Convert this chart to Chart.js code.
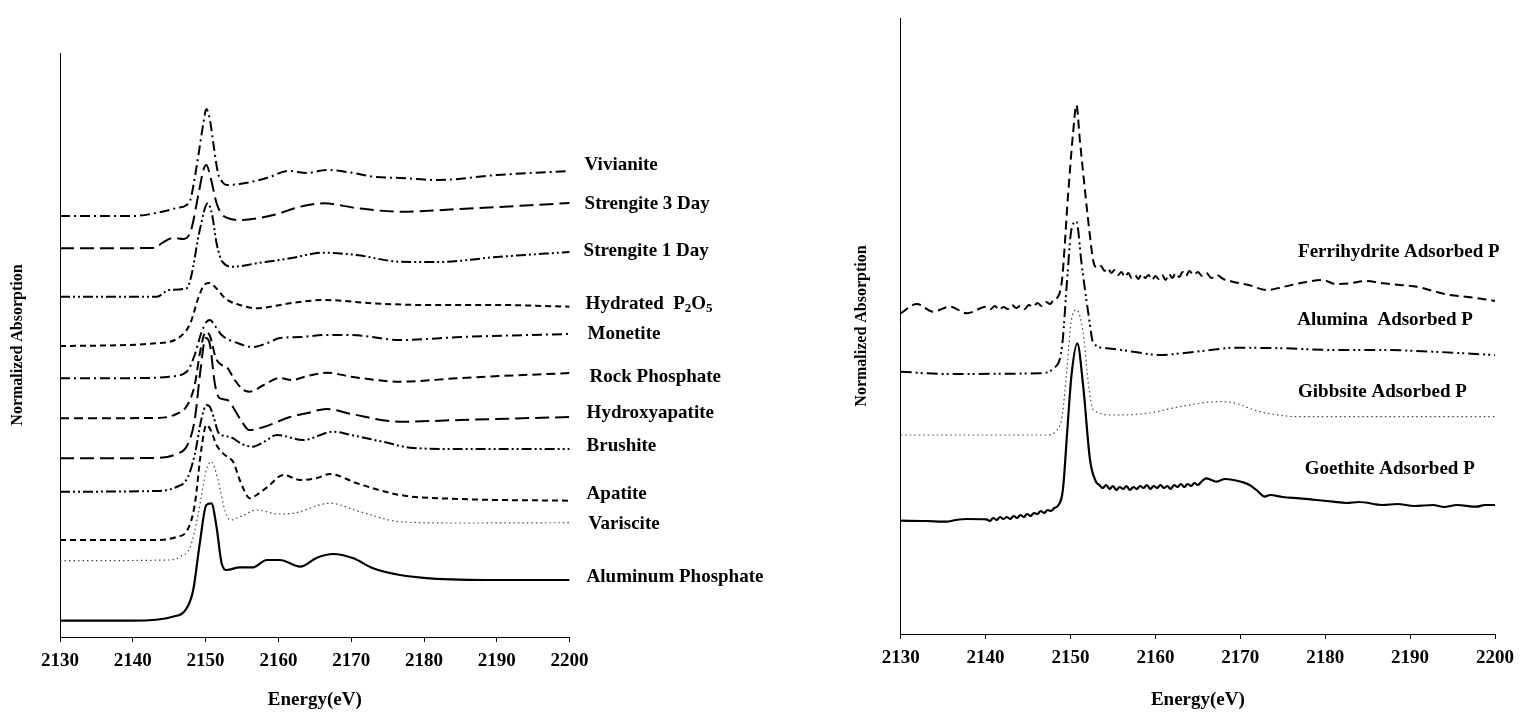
<!DOCTYPE html>
<html><head><meta charset="utf-8">
<script src="https://cdn.jsdelivr.net/npm/chart.js@4"></script>
<style>
html,body{margin:0;padding:0;background:#fff;width:1524px;height:715px;overflow:hidden}
canvas{position:absolute;top:0}
#c1{left:0}
#c2{left:820px}
</style></head><body>
<canvas id="c1" width="800" height="715"></canvas>
<canvas id="c2" width="704" height="715"></canvas>
<script>
// ---------- axis ticks ----------
const xMin = 2130, xMax = 2200, xStep = 10;

// ---------- left panel: reference compounds ----------
const leftNames = ['Vivianite','Strengite 3 Day','Strengite 1 Day','Hydrated P2O5','Monetite','Rock Phosphate','Hydroxyapatite','Brushite','Apatite','Variscite','Aluminum Phosphate'];

const vivE = [2130,2140,2144,2146,2147.4,2147.9,2148.8,2149.7,2150.1,2150.6,2151,2151.7,2152.3,2152.9,2154.7,2158.4,2161.4,2163.9,2166.6,2170.3,2173,2176.7,2182,2190,2200];
const vivA = [4.21,4.21,4.253,4.29,4.32,4.37,4.72,5.14,5.28,5.17,4.97,4.64,4.55,4.52,4.53,4.59,4.66,4.64,4.67,4.64,4.603,4.59,4.57,4.62,4.66];

const s3E = [2130,2143,2144,2145.5,2147,2148,2149,2149.7,2150.1,2150.7,2151.5,2152.2,2153,2154.7,2159.3,2163,2166.2,2170.7,2176.7,2185,2200];
const s3A = [3.887,3.89,3.94,3.99,3.98,4.07,4.42,4.67,4.72,4.59,4.34,4.23,4.19,4.17,4.22,4.303,4.337,4.29,4.253,4.28,4.34];

const s1E = [2130,2143.3,2145,2147.4,2148,2149.2,2150.3,2150.9,2151.5,2152.3,2153.8,2157,2161.6,2166.2,2170.7,2176.7,2182,2190,2200];
const s1A = [3.403,3.403,3.47,3.487,3.60,4.07,4.337,4.22,3.94,3.753,3.703,3.737,3.787,3.843,3.82,3.753,3.75,3.80,3.85];

const hydE = [2130,2143.3,2146.5,2147.9,2149,2149.8,2150.5,2151.3,2152.5,2153.5,2154.7,2157,2161.6,2166.2,2173,2180,2190,2200];
const hydA = [2.91,2.937,3.003,3.137,3.39,3.52,3.54,3.50,3.40,3.35,3.32,3.287,3.337,3.37,3.337,3.32,3.32,3.303];

const monE = [2130,2142,2145,2147.4,2148.5,2149.4,2150.1,2150.6,2151.3,2152.2,2154.5,2156.5,2158.5,2160.2,2163,2166.5,2170,2176.7,2185,2200];
const monA = [2.587,2.59,2.603,2.653,2.82,3.04,3.15,3.17,3.11,3.02,2.937,2.90,2.94,2.99,3.00,3.02,3.02,2.97,3.00,3.03];

const rockE = [2130,2143,2146,2147.5,2148.5,2149.3,2150,2150.6,2151.4,2152.2,2152.9,2154,2155.2,2156,2158,2160.2,2161.8,2164,2166.7,2170,2176.7,2185,2200];
const rockA = [2.187,2.19,2.23,2.32,2.52,2.87,3.05,3.01,2.79,2.72,2.70,2.57,2.47,2.453,2.52,2.59,2.57,2.61,2.643,2.603,2.553,2.59,2.64];

const hapE = [2130,2143,2146,2147.5,2148.5,2149.3,2150,2150.6,2151.3,2151.9,2153,2154,2155,2156,2158,2161.6,2164,2166.6,2170,2176.7,2185,2200];
const hapA = [1.787,1.79,1.83,1.92,2.17,2.67,2.99,2.92,2.52,2.39,2.37,2.27,2.15,2.07,2.10,2.20,2.24,2.28,2.23,2.153,2.17,2.20];

const brE = [2130,2143,2146,2147.5,2148.5,2149.4,2150.1,2150.6,2151.1,2151.8,2153.4,2155,2156.5,2158,2159.8,2163.4,2167.5,2170,2174.3,2178.5,2185,2200];
const brA = [1.453,1.46,1.50,1.59,1.82,2.17,2.32,2.30,2.20,2.04,2.00,1.93,1.903,1.95,2.02,1.97,2.053,2.02,1.953,1.89,1.88,1.88];

const apE = [2130,2143,2146,2147.5,2148.5,2149.4,2150.1,2150.7,2151.5,2152.2,2153,2153.8,2154.7,2156.1,2157,2158.5,2160.7,2163,2165.3,2167.1,2170.8,2176.7,2185,2200];
const apA = [0.97,0.97,1.00,1.07,1.32,1.87,2.12,2.07,1.92,1.85,1.80,1.75,1.57,1.387,1.42,1.50,1.62,1.57,1.59,1.63,1.537,1.42,1.38,1.363];

const varE = [2130,2145,2146.5,2147.9,2149,2150.1,2150.8,2151.7,2152.7,2153.4,2155,2157,2160,2162,2167.1,2171.2,2176.7,2185,2200];
const varA = [0.763,0.77,0.803,0.903,1.237,1.67,1.753,1.57,1.253,1.17,1.21,1.27,1.23,1.237,1.337,1.253,1.153,1.14,1.143];

const alpE = [2130,2140,2145.5,2147.4,2148.3,2149.2,2150.1,2150.8,2151.5,2152.2,2152.9,2154.7,2156.5,2158.4,2160.2,2163,2165.3,2167.5,2170.3,2173,2176.7,2180.8,2190,2200];
const alpA = [0.163,0.163,0.203,0.287,0.47,0.937,1.32,1.337,1.103,0.737,0.67,0.697,0.697,0.77,0.77,0.703,0.793,0.83,0.787,0.687,0.62,0.587,0.57,0.57];

// ---------- right panel: adsorbed P ----------
const rightNames = ['Ferrihydrite Adsorbed P','Alumina  Adsorbed P','Gibbsite Adsorbed P','Goethite Adsorbed P'];

const ferE = [2130,2131.9,2133.8,2135.8,2137.8,2140.1,2140.6,2141.1,2141.6,2142.1,2142.6,2143.1,2143.6,2144.1,2144.6,2145.1,2145.6,2146.1,2146.6,2147.1,2147.6,2148.0,2148.4,2149.0,2149.7,2150.3,2150.7,2151.1,2151.7,2152.3,2152.7,2153.2,2153.6,2154.0,2154.4,2154.8,2155.2,2155.6,2156.0,2156.4,2156.8,2157.2,2157.6,2158.0,2158.4,2158.8,2159.2,2159.6,2160.0,2160.4,2160.8,2161.2,2161.6,2162.0,2162.4,2162.8,2163.2,2163.6,2164.0,2164.5,2165.0,2165.5,2166.0,2166.6,2167.2,2168.0,2169.1,2171,2173.1,2175,2177,2179.7,2181.2,2182.9,2184.8,2186.8,2188.8,2190.8,2192.7,2194.7,2196.8,2198.6,2199.4,2200];
const ferA = [3.207,3.30,3.223,3.273,3.207,3.273,3.25,3.28,3.24,3.27,3.25,3.29,3.26,3.28,3.25,3.29,3.27,3.31,3.28,3.32,3.30,3.34,3.357,3.54,4.373,5.007,5.29,4.94,4.44,3.973,3.723,3.66,3.68,3.63,3.66,3.61,3.64,3.59,3.62,3.57,3.61,3.56,3.59,3.55,3.60,3.56,3.59,3.54,3.58,3.55,3.59,3.54,3.60,3.56,3.61,3.57,3.62,3.58,3.63,3.59,3.62,3.58,3.61,3.56,3.59,3.55,3.523,3.49,3.44,3.47,3.507,3.54,3.50,3.507,3.53,3.507,3.49,3.473,3.43,3.39,3.37,3.35,3.34,3.33];

const aluE = [2130,2135.4,2146.4,2148,2149,2149.6,2150.1,2150.7,2151.3,2152.1,2152.7,2154.3,2157.4,2160.5,2163.7,2167.2,2169.2,2175.1,2181,2186.8,2192.7,2200];
const aluA = [2.623,2.60,2.607,2.657,2.873,3.54,4.04,4.123,3.707,3.207,2.907,2.857,2.823,2.79,2.813,2.847,2.863,2.857,2.84,2.84,2.823,2.79];

const gibE = [2130,2147.2,2148.2,2149,2149.6,2150.1,2150.7,2151.5,2152.1,2152.7,2155,2159,2162.9,2167.2,2169.1,2172.3,2177,2200];
const gibA = [1.99,1.99,2.023,2.173,2.673,3.14,3.24,3.007,2.507,2.24,2.19,2.207,2.273,2.323,2.313,2.223,2.173,2.173];

const goeE = [2130,2133,2135.4,2136.5,2137.8,2140.1,2140.5,2140.9,2141.3,2141.7,2142.1,2142.5,2142.9,2143.3,2143.7,2144.1,2144.5,2144.9,2145.3,2145.7,2146.1,2146.5,2146.9,2147.3,2147.7,2148.1,2148.5,2149.1,2149.6,2150.1,2150.8,2151.5,2152.3,2153.0,2153.4,2153.8,2154.2,2154.6,2155.0,2155.4,2155.8,2156.2,2156.6,2157.0,2157.4,2157.8,2158.2,2158.6,2159.0,2159.4,2159.8,2160.2,2160.6,2161.0,2161.4,2161.8,2162.2,2162.6,2163.0,2163.4,2163.8,2164.2,2164.6,2165.0,2165.5,2166.0,2166.6,2167.2,2168.2,2169.2,2170.2,2171.1,2171.9,2172.9,2173.5,2175,2177,2179,2180.9,2182.5,2184,2186.8,2188.5,2190.5,2192.7,2194,2195.5,2197.8,2198.8,2200];
const goeA = [1.133,1.13,1.123,1.14,1.15,1.147,1.13,1.16,1.14,1.17,1.15,1.17,1.15,1.18,1.16,1.19,1.17,1.20,1.18,1.21,1.20,1.23,1.21,1.24,1.23,1.26,1.28,1.44,2.007,2.573,2.907,2.473,1.74,1.523,1.49,1.46,1.49,1.45,1.48,1.44,1.47,1.45,1.48,1.44,1.47,1.45,1.48,1.46,1.49,1.45,1.48,1.46,1.49,1.46,1.48,1.45,1.49,1.47,1.50,1.47,1.50,1.48,1.51,1.49,1.53,1.557,1.54,1.523,1.55,1.54,1.52,1.49,1.44,1.373,1.39,1.37,1.357,1.34,1.323,1.31,1.32,1.29,1.30,1.28,1.29,1.27,1.29,1.273,1.29,1.29];

// ---------- styles (kept apart from data) ----------
const DASHDOT = [10,4,2,4], LONG = [14,6], DDD = [10,3,2,3,2,3], SHORT = [6,4], MED = [9,5], DOT = [1.5,3];
const leftSeries = [
  [vivE, vivA, DASHDOT, 2], [s3E, s3A, LONG, 2], [s1E, s1A, DDD, 2], [hydE, hydA, SHORT, 2],
  [monE, monA, DASHDOT, 2], [rockE, rockA, MED, 2], [hapE, hapA, LONG, 2], [brE, brA, DDD, 2],
  [apE, apA, SHORT, 2], [varE, varA, DOT, 1.2], [alpE, alpA, [], 2.2]
];
const rightSeries = [
  [ferE, ferA, [9,5], 2], [aluE, aluA, [11,4,2,3,2,4], 2], [gibE, gibA, DOT, 1.2], [goeE, goeA, [], 2.2]
];

// label anchors (layout): left = px offset right of plot area + value; right = energy + value
const leftLabelPos = [[15,4.72],[15,4.33],[14,3.86],[16,3.33],[18,3.03],[20,2.60],[17,2.24],[17,1.91],[17,1.43],[19,1.13],[17,0.60]];
const rightLabelPos = [[2176.8,3.82],[2176.7,3.14],[2176.8,2.42],[2177.6,1.65]];

const FONT = "'Liberation Serif','Times New Roman',serif";

function mkDatasets(series, names) {
  return series.map((s, i) => ({
    label: names[i],
    data: s[0].map((e, j) => ({x: e, y: s[1][j]})),
    borderColor: s[2] === DOT ? '#444' : '#000',
    borderWidth: s[3],
    borderDash: s[2],
    pointRadius: 0,
    fill: false,
    cubicInterpolationMode: 'monotone',
    tension: 0.4
  }));
}

const labelPlugin = {
  id: 'curveLabels',
  afterDraw(chart, args, opts) {
    const ctx = chart.ctx, xs = chart.scales.x, ys = chart.scales.y;
    ctx.save();
    ctx.fillStyle = '#000';
    ctx.textBaseline = 'middle';
    opts.names.forEach((name, i) => {
      const pos = opts.pos[i];
      let x = opts.mode === 'offset' ? chart.chartArea.right + pos[0] : xs.getPixelForValue(pos[0]);
      const y = ys.getPixelForValue(pos[1]);
      let parts = [{t: name}];
      const m = name.match(/^(.*)P2O5$/);
      if (m) parts = [{t: m[1].replace('Hydrated ', 'Hydrated  ') + 'P'}, {t: '2', sub: true}, {t: 'O'}, {t: '5', sub: true}];
      parts.forEach(p => {
        ctx.font = 'bold ' + (p.sub ? 13 : 19) + 'px ' + FONT;
        ctx.fillText(p.t, x, y + (p.sub ? 5 : 0));
        x += ctx.measureText(p.t).width;
      });
    });
    ctx.restore();
  }
};

function mkOptions(cfg) {
  return {
    responsive: false,
    animation: false,
    events: [],
    layout: {padding: {left: 0, right: cfg.padRight, top: cfg.top, bottom: 0}},
    plugins: {
      legend: {display: false},
      tooltip: {enabled: false},
      curveLabels: {names: cfg.names, pos: cfg.pos, mode: cfg.mode}
    },
    scales: {
      x: {
        type: 'linear', min: xMin, max: xMax,
        ticks: {stepSize: xStep, color: '#000', padding: 8, font: {family: FONT, size: 19, weight: 'bold'}, callback: v => String(v)},
        grid: {display: true, drawOnChartArea: false, drawTicks: true, tickLength: 5, color: '#000', lineWidth: 1},
        border: {display: true, color: '#000', width: 1},
        title: {display: true, text: 'Energy(eV)', color: '#000', padding: {top: 0, bottom: 4}, font: {family: FONT, size: 19, weight: 'bold'}},
        afterFit: s => { s.height = cfg.xHeight; }
      },
      y: {
        min: 0, max: cfg.yMax,
        ticks: {display: false},
        grid: {display: false},
        border: {display: true, color: '#000', width: 1},
        title: {display: true, text: 'Normalized Absorption', color: '#000', padding: {top: cfg.yTitlePad, bottom: 0}, font: {family: FONT, size: 16, weight: 'bold'}},
        afterFit: s => { s.width = cfg.yWidth; }
      }
    }
  };
}

new Chart(document.getElementById('c1'), {
  type: 'line',
  data: {datasets: mkDatasets(leftSeries, leftNames)},
  options: mkOptions({padRight: 230.4, top: 53, xHeight: 78, yMax: 5.84, yWidth: 60, yTitlePad: 8.4, names: leftNames, pos: leftLabelPos, mode: 'offset'}),
  plugins: [labelPlugin]
});

new Chart(document.getElementById('c2'), {
  type: 'line',
  data: {datasets: mkDatasets(rightSeries, rightNames)},
  options: mkOptions({padRight: 29, top: 18, xHeight: 81, yMax: 6.16, yWidth: 80.7, yTitlePad: 32.4, names: rightNames, pos: rightLabelPos, mode: 'value'}),
  plugins: [labelPlugin]
});
</script>
</body></html>
